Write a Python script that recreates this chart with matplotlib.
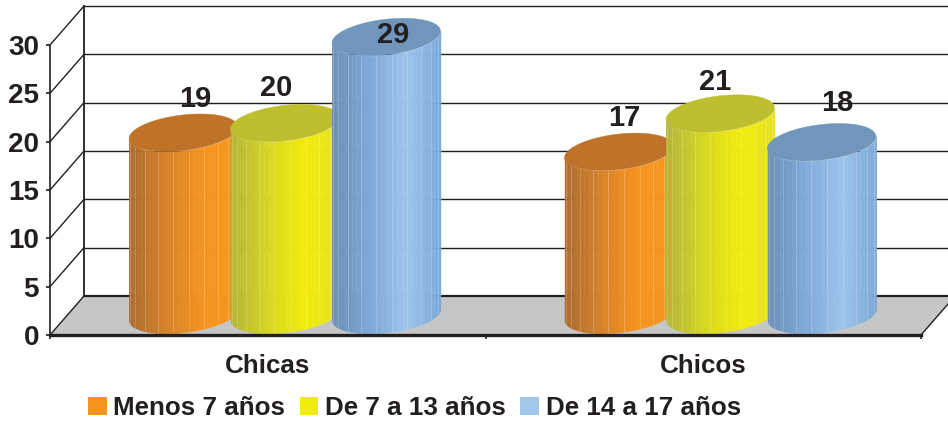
import numpy as np
import matplotlib
matplotlib.use('Agg')
import matplotlib.pyplot as plt
from matplotlib.colors import LinearSegmentedColormap
from matplotlib.patches import Patch, Polygon

plt.rcParams['font.family'] = ['Liberation Sans', 'DejaVu Sans']
plt.rcParams['font.weight'] = 'bold'

## data
categories = ['Chicas', 'Chicos']
series_names = ['Menos 7 años', 'De 7 a 13 años', 'De 14 a 17 años']
menos_7 = [19, 17]
de_7_a_13 = [20, 21]
de_14_a_17 = [29, 18]
y_ticks = [0, 5, 10, 15, 20, 25, 30]

## side shading from left to right, colour of the top ellipse, colour in the legend
side_colors = [['#ad6b2c', '#d9842a', '#f7941d', '#f7941d'],
               ['#b4b636', '#d8d820', '#f2ec0b', '#e6e220'],
               ['#6b8fb5', '#7fabdb', '#9dc4ea', '#7aa8d8']]
top_colors = ['#bf7328', '#bdbf2e', '#7096bc']
legend_colors = ['#f7941d', '#f2ec0b', '#a0c6ea']
floor_color = '#c5c6c8'
line_color = '#231f20'

W, H = 948, 423
fig = plt.figure(figsize=(W / 100, H / 100), dpi=100)
ax = fig.add_axes([50 / W, (H - 335) / H, 871 / W, 290 / H])
ax.set_xlim(0, 2)
ax.set_ylim(0, 30)
ax.patch.set_alpha(0)

## pixel sizes turned into data units
px_x = 2 / 871
px_y = 30 / 290
depth_x = 34 * px_x
depth_y = 39 * px_y
half_width = 51.5 * px_x
spacing = 101.5 * px_x
height_scale = 0.99  ## columns stop a little short of the gridlines in the picture

## floor, back wall and side wall
floor = Polygon([(0, 0), (2, 0), (2 + depth_x, depth_y), (depth_x, depth_y)],
                facecolor=floor_color, edgecolor='none', zorder=1, clip_on=False)
ax.add_patch(floor)
for v in y_ticks:
    lw = 1.6 if v == 0 else 1.0
    ax.plot([depth_x, 2 + depth_x], [v + depth_y, v + depth_y], color=line_color, lw=lw, zorder=2, clip_on=False)
    ax.plot([0, depth_x], [v, v + depth_y], color=line_color, lw=1.0, zorder=2, clip_on=False)
ax.plot([depth_x, depth_x], [depth_y, 30 + depth_y], color=line_color, lw=1.3, zorder=2, clip_on=False)
ax.plot([2, 2 + depth_x], [0, depth_y], color=line_color, lw=1.0, zorder=2, clip_on=False)


def draw_cylinder(cx, value, colors, top_color, z):
    ## the base is a circle lying on the floor, so it shears along the depth
    cmap = LinearSegmentedColormap.from_list('side', colors)
    cy = depth_y / 2 + 1 * px_y
    dx = depth_x / 2
    dy = depth_y * 0.48
    h = value * height_scale
    t0 = np.arctan2(dx, half_width)
    phi = np.linspace(0, np.pi, 33)
    t = t0 + np.pi + phi
    xs = cx + half_width * np.cos(t) + dx * np.sin(t)
    ys = cy + dy * np.sin(t)
    for i in range(len(phi) - 1):
        frac = (xs[i] - xs[0]) / (xs[-1] - xs[0])
        c = cmap(frac)
        ax.fill_between(xs[i:i + 2], ys[i:i + 2], ys[i:i + 2] + h, facecolor=c, edgecolor=c,
                        lw=0.3, zorder=z, clip_on=False)
        if i % 3 == 2:
            ax.plot([xs[i], xs[i]], [ys[i], ys[i] + h], color='white', alpha=0.22, lw=0.6, zorder=z, clip_on=False)
    tt = np.linspace(0, 2 * np.pi, 80)
    top_x = cx + half_width * np.cos(tt) + dx * np.sin(tt)
    top_y = cy + h + dy * np.sin(tt)
    ax.fill(top_x, top_y, facecolor=top_color, edgecolor=top_color, lw=0.3, zorder=z + 0.5, clip_on=False)
    return cy + h


## value labels are placed by hand in the picture, nudges in pixels
label_nudges = [[(12, 34), (-9, 35.6), (7, 2.4)],
                [(6, 34.3), (-5, 32), (15, 39.7)]]
all_series = [menos_7, de_7_a_13, de_14_a_17]
z = 3
for g in range(len(categories)):
    center = g + 0.5 + depth_x / 2
    for s in range(len(all_series)):
        value = all_series[s][g]
        cx = center + (s - 1) * spacing
        top = draw_cylinder(cx, value, side_colors[s], top_colors[s], z)
        z += 1
        nx, ny = label_nudges[g][s]
        ax.annotate(str(value), (cx, top), xytext=(nx * 0.72, ny * 0.72), textcoords='offset points',
                    ha='center', va='center', fontsize=21, fontweight='bold', color=line_color,
                    zorder=20, annotation_clip=False)

## axes
for side in ['top', 'right']:
    ax.spines[side].set_visible(False)
ax.spines['bottom'].set_linewidth(2.4)
ax.spines['left'].set_linewidth(1.2)
ax.spines['bottom'].set_color(line_color)
ax.spines['left'].set_color(line_color)
ax.spines['bottom'].set_zorder(30)
ax.set_yticks(y_ticks)
ax.set_xticks([0, 1, 2])
ax.set_xticklabels([])
ax.set_xticks([0.5, 1.5], minor=True)
ax.set_xticklabels(categories, minor=True)
ax.tick_params(axis='y', length=3, width=1.2, pad=5, labelsize=20, colors=line_color)
ax.tick_params(axis='x', which='major', length=3, width=1.2, color=line_color)
ax.tick_params(axis='x', which='minor', length=0, pad=14, labelsize=18.7, labelcolor=line_color)

handles = [Patch(facecolor=c, edgecolor='none') for c in legend_colors]
fig.legend(handles, series_names, ncol=3, loc='center left', bbox_to_anchor=(88 / W, (H - 408) / H),
           frameon=False, fontsize=18.7, handlelength=0.72, handleheight=0.72, handletextpad=0.25,
           columnspacing=0.56, borderpad=0, borderaxespad=0, labelcolor=line_color)

fig.savefig('out.png', dpi=100)
